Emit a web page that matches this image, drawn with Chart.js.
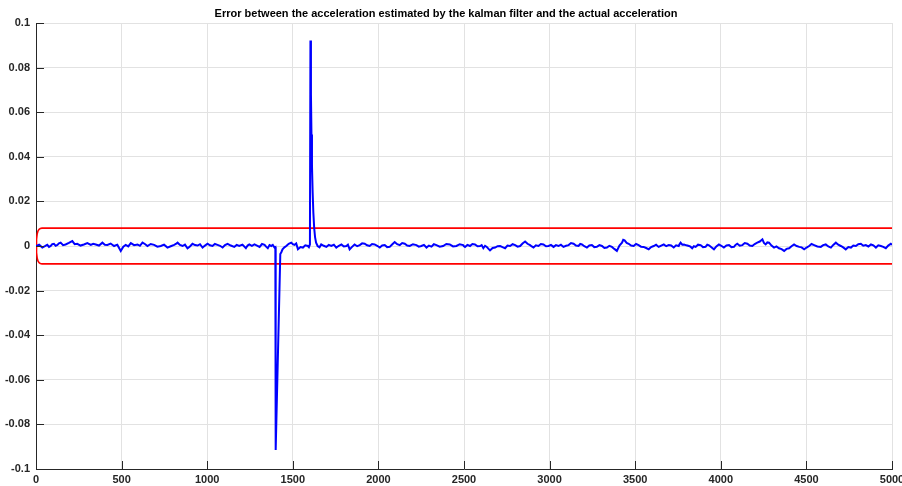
<!DOCTYPE html>
<html>
<head>
<meta charset="utf-8">
<script src="https://cdn.jsdelivr.net/npm/chart.js@4/dist/chart.umd.min.js"></script>
<style>
  html, body { margin: 0; padding: 0; background: #fff; }
  #wrap { width: 902px; height: 486px; position: relative; }
</style>
</head>
<body>
<div id="wrap"><canvas id="c" width="902" height="486"></canvas></div>
<script>
// ---- data ----
const chartTitle = "Error between the acceleration estimated by the kalman filter and the actual acceleration";

// main points of the error curve: sample index
const sampleIdx = [
  0, 37, 66, 86, 105, 125, 144, 173, 212, 241, 280, 320, 349, 388, 417, 456, 495, 524, 554, 593,
  622, 651, 690, 729, 768, 807, 827, 856, 885, 914, 944, 973, 1002, 1031, 1060, 1090, 1119, 1158, 1187, 1226,
  1246, 1276, 1306, 1335, 1354, 1374, 1393, 1398, 1400, 1427, 1440, 1462, 1491, 1510, 1530, 1559, 1588, 1600,
  1603, 1606, 1609, 1612, 1616, 1620, 1625, 1630, 1636, 1645,
  1666, 1696, 1725, 1754, 1784, 1813, 1832, 1861, 1891, 1920, 1949, 1978, 2008, 2037, 2066, 2095, 2125, 2154,
  2183, 2222, 2251, 2281, 2310, 2339, 2378, 2417, 2456, 2495,
  2506, 2535, 2564, 2594, 2613, 2633, 2652, 2682, 2711, 2740, 2769, 2799, 2828, 2857, 2886, 2906, 2935, 2964,
  2994, 3023, 3052, 3081, 3111, 3140, 3169, 3189, 3218, 3247, 3276, 3306, 3335, 3364, 3393, 3423, 3438, 3462,
  3491, 3520, 3549, 3579, 3608, 3637, 3667, 3696, 3725, 3754,
  3765, 3785, 3814, 3833, 3853, 3882, 3911, 3931, 3960, 3989, 4018, 4048, 4077, 4096, 4126, 4155, 4184, 4213,
  4243, 4262, 4282, 4311, 4340, 4370, 4399, 4428, 4458, 4487, 4516, 4545, 4584, 4613, 4643, 4672, 4701, 4730,
  4760, 4789, 4818, 4847, 4877, 4906, 4935, 4964, 4993, 5000
];
// error value at each main point, in thousandths (x 0.001)
const errorMilli = [
  0, -0.7, 0.5, 0, 1, 0.5, 1.5, 0.7, 2.2, 1, 0.7, 0.5, 0.7, 1.5, 0.5, 0, -2.2, 0.5, 1.3, 0.7,
  1.5, 0, 0.5, 0, -0.7, 0.5, 1.5, 0, -1, 1, 0.2, -0.7, 1, 0, 0.5, -0.7, 1, -0.4, 0, -1,
  0.7, 0.7, -0.4, 0.5, -1, 0, -0.7, -0.5, -91.5, -3.6, -1.5, 0, 1.5, 0.5, -1.5, -0.7, 0, 0.7,
  92.2, 68, 50, 36, 24, 15, 8, 4, 1.5, 0,
  0.7, -0.4, 0, -0.7, 0.7, 0, -1.5, 0.7, 0.4, 1, 0, 0.7, -0.7, 0.4, -0.4, 1.8, 0.4, 1,
  0, 0.4, 0, -0.7, -0.3, 0.4, 0, 0.7, 0, 0.4,
  -0.4, 0, 0.7, 0, -1, -0.4, -2, -0.7, 0, -1, 0, 0.4, 0, 2, 0.4, -0.7, 0, 0.7,
  0, -0.4, 0, -0.4, 0.4, 1, 0, 0.7, -0.7, 0.4, -0.4, 0, -0.7, -0.4, -2.2, 1.5, 2.5, 1,
  0, 0.4, -0.4, -1.5, 0, -0.4, 0.7, 0.4, -0.7, 0,
  1.5, 0.7, 0, -1, -0.4, 0.4, -0.4, 0.3, -1.5, 0.7, -0.7, 0.4, -0.4, 1, 0.4, 1, 0, 1.5,
  3, 0.7, 1.5, -0.7, -1, -2.2, -1, 0.7, -0.4, -1.5, 0, 0.4, -0.4, 0.7, -0.7, 1.5, 0, -1.5,
  -0.7, 0, 1, 0.4, 0.7, -0.7, 0, -1, 1, 0.5
];

// in-between jitter points of the error curve: sample index
const jitterIdx = [
  18, 52, 76, 95, 115, 134, 158, 192, 226, 260, 300, 334, 368, 402, 436, 475, 510, 539, 573, 607,
  636, 670, 709, 748, 787, 817, 841, 870, 899, 929, 958, 987, 1016, 1045, 1075, 1104, 1138, 1172, 1206, 1236,
  1261, 1291, 1320, 1344, 1364, 1383,
  1433, 1451, 1476, 1500, 1520, 1545, 1573, 1594,
  1656, 1681, 1710, 1740, 1769, 1798, 1822, 1846, 1876, 1905, 1934, 1963, 1993, 2022, 2051,
  2080, 2110, 2139, 2168, 2202, 2236, 2266, 2295, 2324, 2358, 2397, 2436, 2475, 2500, 2520,
  2549, 2579, 2603, 2623, 2642, 2667, 2696, 2725, 2754, 2784, 2813, 2842, 2871, 2896, 2920,
  2949, 2979, 3008, 3037, 3066, 3096, 3125, 3154, 3179, 3203, 3232, 3261, 3291, 3320, 3349,
  3378, 3408, 3430, 3450, 3476, 3505, 3534, 3564, 3593, 3622, 3652, 3681, 3710, 3739, 3759,
  3775, 3799, 3823, 3843, 3867, 3896, 3921, 3945, 3974, 4003, 4033, 4062, 4086, 4111, 4140,
  4169, 4198, 4228, 4252, 4272, 4296, 4325, 4355, 4384, 4413, 4443, 4472, 4501, 4530, 4564,
  4598, 4628, 4657, 4686, 4715, 4745, 4774, 4803, 4832, 4862, 4891, 4920, 4949, 4978
];
// jitter values, in thousandths
const jitterMilli = [
  0.6, -0.1, -0.4, 0.8, 0.1, 1.2, 0.4, 1.4, 0.8, 0.2, 1.3, 1.0, 0.2, 0.6, 1.1, 0.6, -0.3, -0.2, 0.4, 0.1,
  0.9, 0.9, -0.3, 0.6, -0.1, 0.9, 0.5, 0.6, -0.2, 0.4, 0.8, 0.2, 0.3, 0.9, 0.1, 0.4, 0.2, 0.5, 0.6, 0.2,
  0.1, 0.2, 0.9, -0.3, 0.4, 0.5,
  -2.8, -0.6, 1.0, 0.8, 1.1, -0.5, 0.3, -0.5,
  -0.6, 0.1, 0.5, 0.6, 0.1, -0.2, 0.6, -0.4, -0.1, 1.2, 0.3, 0.9, 0.1, 0.2, -0.5,
  0.7, 0.8, 1.3, 0.2, 0.8, -0.3, 0.5, 0.2, 0.8, -0.3, 0.9, -0.2, 0.8, -0.1, 0.5,
  0.9, -0.1, 0.4, 0.1, -1.2, -0.9, -0.1, -0.5, 0.2, 0.8, -0.3, 1.1, 1.0, -0.2, 0.3,
  0.9, -0.1, 0.5, 0.4, 0.6, 0.1, 1.3, 0.2, 0.9, -0.1, 0.2, -0.5, 0.4, -0.9, 0.1,
  -1.3, 0.2, 2.8, 1.4, 0.2, 0.9, -0.3, -0.9, -0.5, 0.6, 0.2, -0.1, 0.2, 0.3, 0.8,
  0.6, 0.3, -0.3, -0.1, 0.6, -0.5, 0.6, -0.6, -0.2, 0.1, 0.2, -0.5, 0.5, 0.1, 1.3,
  0.2, 0.9, 2.0, 1.4, 1.6, 0.2, -0.2, -1.4, -1.3, -0.1, 0, -0.6, -0.7, 0.9, -0.2,
  0.4, -0.2, 0.5, 0.6, -0.6, -0.5, 0.2, 0.8, 0.1, -0.2, 0.3, 0.3, -0.4, 0.2
];

// confidence bound (+/-): sample index and value in thousandths
const boundIdx = [0, 3, 7, 12, 18, 25, 35, 50, 5000];
const boundMilli = [0, 3, 5.5, 6.8, 7.5, 7.85, 8, 8, 8];

// axis ticks
const xTicks = [0, 500, 1000, 1500, 2000, 2500, 3000, 3500, 4000, 4500, 5000];
const yTicks = [-0.1, -0.08, -0.06, -0.04, -0.02, 0, 0.02, 0.04, 0.06, 0.08, 0.1];

// ---- build datasets ----
const errPts = sampleIdx.map((s, i) => ({ x: s, y: errorMilli[i] / 1000 }))
  .concat(jitterIdx.slice(0, jitterMilli.length).map((s, i) => ({ x: s, y: jitterMilli[i] / 1000 })))
  .sort((a, b) => a.x - b.x);
const upPts = boundIdx.map((s, i) => ({ x: s, y: boundMilli[i] / 1000 }));
const loPts = boundIdx.map((s, i) => ({ x: s, y: -boundMilli[i] / 1000 }));

const AX = '#262626';
const GRID = '#e2e2e2';
const FONT = "'Liberation Sans', Arial, Helvetica, sans-serif";

const inwardTicks = {
  id: 'inwardTicks',
  afterDraw(chart) {
    const { ctx, chartArea, scales } = chart;
    ctx.save();
    ctx.strokeStyle = AX;
    ctx.lineWidth = 1;
    ctx.beginPath();
    xTicks.forEach(v => {
      const px = Math.round(scales.x.getPixelForValue(v)) + 0.5;
      ctx.moveTo(px, chartArea.bottom);
      ctx.lineTo(px, chartArea.bottom - 8);
    });
    yTicks.forEach(v => {
      const py = Math.round(scales.y.getPixelForValue(v)) + 0.5;
      ctx.moveTo(chartArea.left, py);
      ctx.lineTo(chartArea.left + 8, py);
    });
    ctx.stroke();
    ctx.restore();
  }
};

new Chart(document.getElementById('c'), {
  type: 'scatter',
  data: {
    datasets: [
      { data: upPts, showLine: true, borderColor: '#ff0000', borderWidth: 1.6, pointRadius: 0, tension: 0, order: 2 },
      { data: loPts, showLine: true, borderColor: '#ff0000', borderWidth: 1.6, pointRadius: 0, tension: 0, order: 2 },
      { data: errPts, showLine: true, borderColor: '#0000ff', borderWidth: 2, pointRadius: 0, tension: 0, order: 1 }
    ]
  },
  options: {
    responsive: false,
    animation: false,
    events: [],
    layout: { padding: { left: 0, right: 10, top: 0, bottom: 0 } },
    plugins: {
      legend: { display: false },
      tooltip: { enabled: false },
      title: {
        display: true,
        text: chartTitle,
        color: '#000',
        font: { family: FONT, size: 11, weight: 'bold', lineHeight: 1.2 },
        padding: { top: 7.6, bottom: 2.2 }
      }
    },
    scales: {
      x: {
        type: 'linear',
        min: 0, max: 5000,
        afterFit(s) { s.height = 17; s.paddingLeft = 0; s.paddingRight = 0; },
        afterBuildTicks(s) { s.ticks = xTicks.map(v => ({ value: v })); },
        ticks: {
          color: AX, padding: 4, maxRotation: 0, autoSkip: false,
          font: { family: FONT, size: 11, weight: 'bold' },
          callback: v => String(v)
        },
        grid: { color: GRID, lineWidth: 1, drawTicks: false },
        border: { display: true, color: AX, width: 1 }
      },
      y: {
        type: 'linear',
        min: -0.1, max: 0.1,
        afterFit(s) { s.width = 36; },
        afterBuildTicks(s) { s.ticks = yTicks.map(v => ({ value: v })); },
        ticks: {
          color: AX, padding: 6, autoSkip: false,
          font: { family: FONT, size: 11, weight: 'bold' },
          callback: v => String(+Number(v).toFixed(2))
        },
        grid: { color: GRID, lineWidth: 1, drawTicks: false },
        border: { display: true, color: AX, width: 1 }
      }
    }
  },
  plugins: [inwardTicks]
});
</script>
</body>
</html>
